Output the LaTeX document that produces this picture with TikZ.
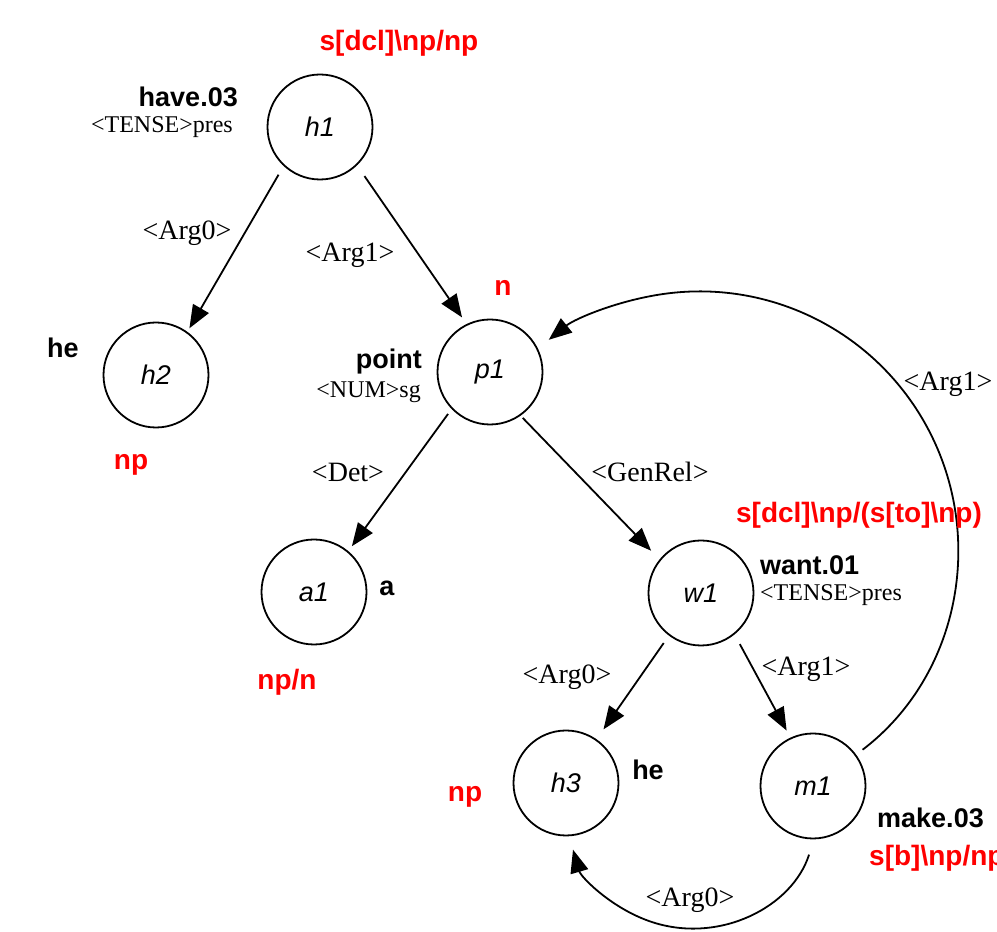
\documentclass[tikz,border=0pt]{standalone}
\usepackage{fontspec}
\setmainfont{Liberation Serif}
\setsansfont{Liberation Sans}
\usetikzlibrary{arrows.meta}
\definecolor{catred}{RGB}{255,0,0}

\begin{document}
\begin{tikzpicture}[x=1pt,y=1pt,
  sem/.style={circle, draw, line width=1.8pt, minimum size=105pt, inner sep=0pt,
              font=\sffamily\itshape\fontsize{27}{27}\selectfont},
  edge/.style={line width=1.8pt, -{Triangle[length=23pt,width=18pt]}},
  rel/.style={font=\fontsize{28}{28}\selectfont, inner sep=0pt},
  pred/.style={font=\sffamily\bfseries\fontsize{27}{27}\selectfont, inner sep=0pt},
  attr/.style={font=\fontsize{24}{24}\selectfont, inner sep=0pt},
  cat/.style={font=\sffamily\bfseries\fontsize{28}{28}\selectfont, text=catred, inner sep=0pt}]

\useasboundingbox (0,0) rectangle (997,932);

% semantic nodes
\node[sem] (h1) at (320,805) {h1};
\node[sem] (h2) at (156,557) {h2};
\node[sem] (p1) at (490,560) {p1};
\node[sem] (a1) at (314,340) {a1};
\node[sem] (w1) at (701,339) {w1};
\node[sem] (h3) at (566,149) {h3};
\node[sem] (m1) at (813,146) {m1};

% relations
\draw[edge, shorten <=10pt, shorten >=4pt] (h1.227) -- (h2.54);
\draw[edge, shorten <=13pt, shorten >=8pt] (h1.-46) -- (p1.116);
\draw[edge, shorten <=6pt, shorten >=6pt] (p1.224) -- (a1.50);
\draw[edge, shorten <=3pt, shorten >=12pt] (p1.-55) -- (w1.141);
\draw[edge, shorten <=9pt, shorten >=12pt] (w1.233) -- (h3.55);
\draw[edge, shorten <=11pt, shorten >=8pt] (w1.-51) -- (m1.115);
\draw[edge, shorten <=8pt, shorten >=14pt] (m1.36)
  arc[start angle=-52.7, end angle=128.9, radius=258pt];
\draw[edge, shorten <=16pt, shorten >=14pt] (m1.-89)
  arc[start angle=-17.7, end angle=-163.8, radius=128pt];

% relation labels
\node[rel] (r-h1h2) at (187,699) {<Arg0>};
\node[rel] (r-h1p1) at (350,677) {<Arg1>};
\node[rel] (r-m1p1) at (948,548) {<Arg1>};
\node[rel] (r-p1a1) at (348,460) {<Det>};
\node[rel] (r-p1w1) at (650,460) {<GenRel>};
\node[rel] (r-w1h3) at (567,255) {<Arg0>};
\node[rel] (r-w1m1) at (806,263) {<Arg1>};
\node[rel] (r-m1h3) at (690,32) {<Arg0>};

% predicates and attributes
\node[pred, anchor=east] (l-h1) at (238,835) {have.03};
\node[attr, anchor=east] (t-h1) at (233,805) {<TENSE>pres};
\node[pred] (l-h2) at (63,584) {he};
\node[pred, anchor=east] (l-p1) at (422,570) {point};
\node[attr, anchor=east] (t-p1) at (421,540) {<NUM>sg};
\node[pred] (l-a1) at (387,344) {a};
\node[pred, anchor=west] (l-w1) at (760,367) {want.01};
\node[attr, anchor=west] (t-w1) at (760,337) {<TENSE>pres};
\node[pred] (l-h3) at (648,162) {he};
\node[pred, anchor=west] (l-m1) at (877,114) {make.03};

% categories
\node[cat] (c-h1) at (399,889) {s[dcl]\textbackslash np/np};
\node[cat] (c-h2) at (131,467) {np};
\node[cat] (c-p1) at (503,644) {n};
\node[cat] (c-a1) at (287,250) {np/n};
\node[cat] (c-w1) at (859,417) {s[dcl]\textbackslash np/(s[to]\textbackslash np)};
\node[cat] (c-h3) at (465,135) {np};
\node[cat, anchor=west] (c-m1) at (869,74) {s[b]\textbackslash np/np};
\end{tikzpicture}
\end{document}
